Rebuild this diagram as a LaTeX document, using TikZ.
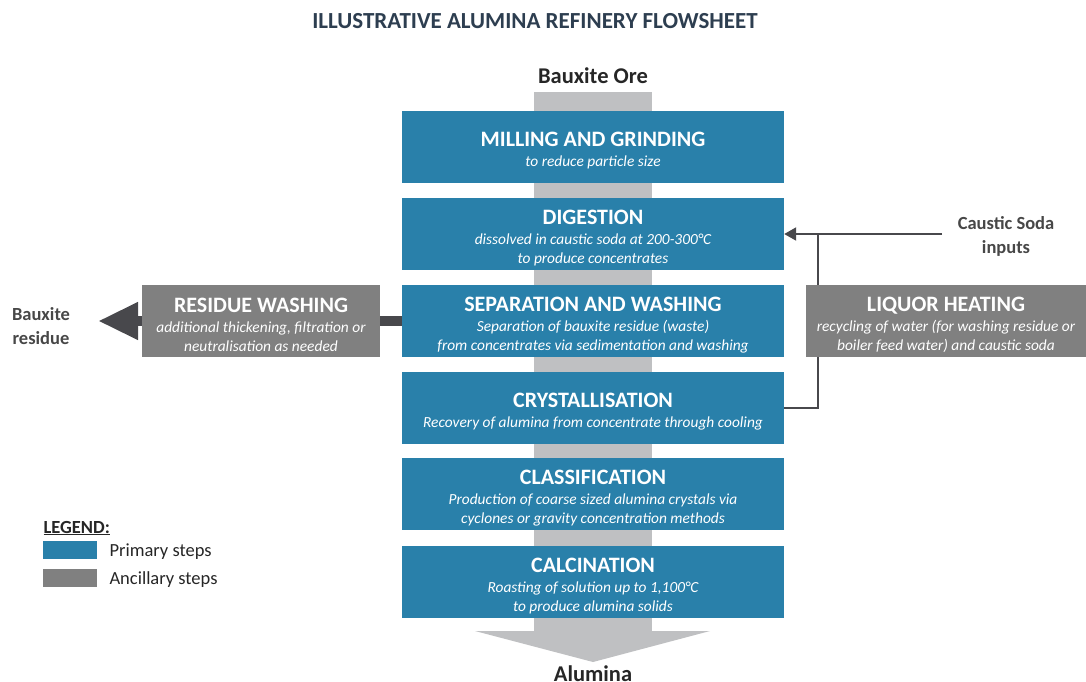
\documentclass[tikz,border=0pt]{standalone}
\usepackage{fontspec}
\setmainfont{Carlito}
\usetikzlibrary{arrows.meta}
\definecolor{stepblue}{RGB}{41,128,170}
\definecolor{stepgrey}{RGB}{128,128,128}
\definecolor{streamgrey}{RGB}{191,192,194}
\definecolor{flowdark}{RGB}{72,72,76}
\definecolor{titleslate}{RGB}{45,62,80}
\definecolor{labeldark}{RGB}{38,38,38}
\newcommand{\steptitle}[1]{{\fontsize{22}{24}\selectfont\upshape\bfseries\rule{0pt}{22pt}#1}}

\begin{document}
\begin{tikzpicture}[x=1pt,y=-1pt,
				primary/.style={fill=stepblue,text=white,minimum width=382pt,minimum height=72pt,
					inner sep=0pt,align=center,font=\fontsize{15.4}{19}\selectfont\itshape},
				ancillary/.style={primary,fill=stepgrey},
				endlabel/.style={text=labeldark,anchor=base,font=\fontsize{22.5}{24}\selectfont\bfseries},
				sidelabel/.style={text=labeldark!85,align=center,font=\fontsize{18.5}{24}\selectfont\bfseries},
				swatch/.style={minimum width=54pt,minimum height=18pt,inner sep=0pt},
				legendtext/.style={text=labeldark,font=\fontsize{18.5}{20}\selectfont,anchor=west},
				>=Triangle]
				\useasboundingbox (0,0) rectangle (1086,681);
				
				% Title
				\node[text=titleslate,anchor=base,font=\fontsize{23}{26}\selectfont\bfseries] (title) at (535,28)
					{ILLUSTRATIVE ALUMINA REFINERY FLOWSHEET};
				
				% Main stream
				\node[endlabel] (ore) at (593,83) {Bauxite Ore};
				\node[endlabel] (alumina) at (593,681) {Alumina};
				\fill[streamgrey] (534,92) rectangle (652,631);
				\fill[streamgrey] (475,631) -- (710,631) -- (593,662) -- cycle;
				
				% Primary steps
				\node[primary] (milling) at (593,147)
					{\steptitle{MILLING AND GRINDING}\\[1pt] to reduce particle size};
				\node[primary] (digestion) at (593,234)
					{\steptitle{DIGESTION}\\[1pt] dissolved in caustic soda at 200-300\textdegree C\\ to produce concentrates};
				\node[primary] (separation) at (593,321)
					{\steptitle{SEPARATION AND WASHING}\\[1pt] Separation of bauxite residue (waste)\\ from concentrates via sedimentation and washing};
				\node[primary] (crystal) at (593,408)
					{\steptitle{CRYSTALLISATION}\\[1pt] Recovery of alumina from concentrate through cooling};
				\node[primary] (classif) at (593,494)
					{\steptitle{CLASSIFICATION}\\[1pt] Production of coarse sized alumina crystals via\\ cyclones or gravity concentration methods};
				\node[primary] (calcin) at (593,582)
					{\steptitle{CALCINATION}\\[1pt] Roasting of solution up to 1,100\textdegree C\\ to produce alumina solids};
				
				% Residue out
				\node[sidelabel] (bresidue) at (41,326) {Bauxite\\ residue};
				\coordinate (residuetip) at (98,321);
				\draw[flowdark,line width=10pt,-{Triangle[width=35pt,length=40pt]}] (separation.west) -- (residuetip);
				\node[ancillary,minimum width=238pt] (residue) at (261,321)
					{\steptitle{RESIDUE WASHING}\\[1pt] additional thickening, filtration or\\ neutralisation as needed};
				
				% Caustic soda and recycle
				\node[sidelabel] (caustic) at (1006,236) {Caustic Soda\\ inputs};
				\coordinate (csoda) at (942,234);
				\coordinate (junction) at (818,234);
				\draw[flowdark,line width=2pt,-{Triangle[width=13pt,length=12pt]}] (csoda) -- (digestion.east);
				\draw[flowdark,line width=2pt] (junction) |- (crystal.east);
				\node[ancillary,minimum width=280pt] (liquor) at (946,321)
					{\steptitle{LIQUOR HEATING}\\[1pt] recycling of water (for washing residue or\\ boiler feed water) and caustic soda};
				
				% Legend
				\node[text=labeldark,font=\fontsize{18.5}{20}\selectfont\bfseries,anchor=west] (legend) at (40,528) {\underline{LEGEND:}};
				\node[swatch,fill=stepblue] (primkey) at (70,550) {};
				\node[swatch,fill=stepgrey] (ancikey) at (70,578) {};
				\node[legendtext] (primtext) at (106,552) {Primary steps};
				\node[legendtext] (ancitext) at (106,580) {Ancillary steps};
			\end{tikzpicture}
\end{document}
